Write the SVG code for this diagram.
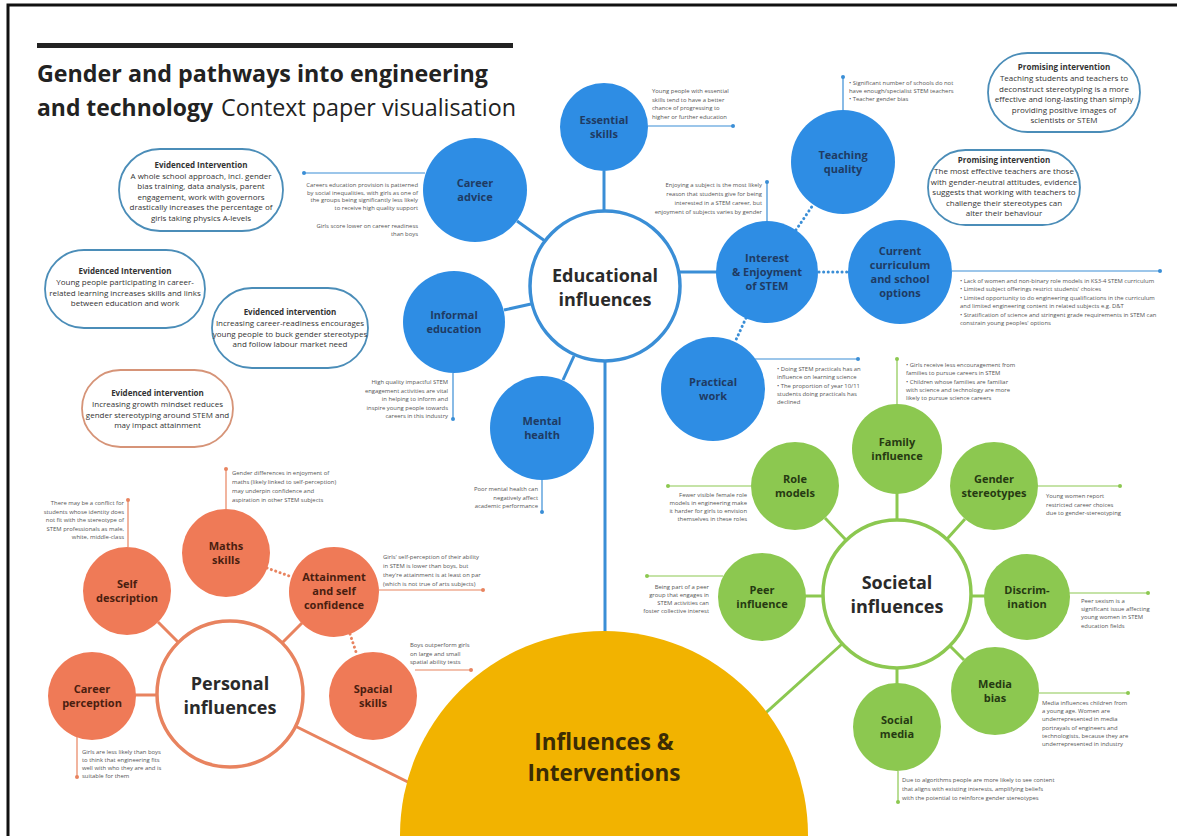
<svg xmlns="http://www.w3.org/2000/svg" width="1177" height="836" viewBox="0 0 1177 836">
<style>
text{font-family:"Open Sans","Liberation Sans",sans-serif}
.bl{fill:#2E8DE4}
.or{fill:#EF7A57}
.gr{fill:#8CC850}
.lbl{font-weight:700;font-size:11px;text-anchor:middle}
.lb{fill:#1F3B63}
.lo{fill:#4A1E10}
.lg{fill:#263A12}
.hub{font-weight:700;font-size:18px;text-anchor:middle;fill:#2A2A2A}
.an{font-size:5.9px;fill:#555}
.r{text-anchor:end}
.box{fill:#fff;stroke-width:1.8}
.bt{font-size:8px;fill:#333;text-anchor:middle}
.bt .h{font-weight:700}
.cb{stroke:#3A8ED6;stroke-width:3;fill:none}
.co{stroke:#E8835F;stroke-width:3;fill:none}
.cg{stroke:#8CC850;stroke-width:3;fill:none}
.dot{stroke-dasharray:0.1 4.5;stroke-linecap:round}
.ab{stroke:#3A8ED6;stroke-width:1.2}
.ao{stroke:#E8835F;stroke-width:1.2}
.ag{stroke:#8CC850;stroke-width:1.2}
</style>
<rect x="0" y="0" width="1177" height="836" fill="#fff"/>
<rect x="8" y="5" width="1200" height="900" fill="none" stroke="#111" stroke-width="3"/>

<g id="title">
<rect x="37" y="43" width="476" height="5" fill="#222"/>
<text x="37" y="82" font-size="23" font-weight="700" fill="#222" textLength="451" lengthAdjust="spacingAndGlyphs">Gender and pathways into engineering</text>
<text x="37" y="116" font-size="23" font-weight="700" fill="#222" textLength="176" lengthAdjust="spacingAndGlyphs">and technology</text>
<text x="221" y="116" font-size="23" fill="#222" textLength="295" lengthAdjust="spacingAndGlyphs">Context paper visualisation</text>
</g>

<g id="connectors">
<line class="cb" x1="604" y1="171" x2="604" y2="211"/>
<line class="cb" x1="517" y1="221" x2="545" y2="241"/>
<line class="cb" x1="504" y1="310" x2="531" y2="304"/>
<line class="cb" x1="563" y1="380" x2="574" y2="356"/>
<line class="cb" x1="680" y1="272" x2="717" y2="272"/>
<line class="cb" x1="605" y1="361" x2="605" y2="640"/>
<line class="cb dot" x1="796" y1="230" x2="813" y2="205"/>
<line class="cb dot" x1="819" y1="272" x2="848" y2="272"/>
<line class="cb dot" x1="746" y1="318" x2="735" y2="342"/>
<line class="co" x1="158" y1="622" x2="178" y2="642"/>
<line class="co" x1="302" y1="623" x2="282" y2="643"/>
<line class="co" x1="135" y1="695" x2="158" y2="695"/>
<line class="co" x1="295" y1="726" x2="420" y2="788" stroke-width="4"/>
<line class="co dot" x1="267" y1="568" x2="292" y2="577"/>
<line class="co dot" x1="350" y1="634" x2="357" y2="655"/>
<line class="cg" x1="897" y1="493" x2="897" y2="521"/>
<line class="cg" x1="825" y1="518" x2="846" y2="540"/>
<line class="cg" x1="965" y1="519" x2="947" y2="539"/>
<line class="cg" x1="805" y1="596" x2="824" y2="596"/>
<line class="cg" x1="970" y1="596" x2="985" y2="596"/>
<line class="cg" x1="964" y1="660" x2="950" y2="646"/>
<line class="cg" x1="897" y1="667" x2="897" y2="684"/>
<line class="cg" x1="842" y1="644" x2="760" y2="718"/>
</g>

<g id="node-influences-interventions">
<circle cx="604" cy="835" r="204" fill="#F2B300"/>
<text x="604" y="750" font-size="22.5" font-weight="700" text-anchor="middle" fill="#3B2C05">Influences &amp;</text>
<text x="604" y="781" font-size="22.5" font-weight="700" text-anchor="middle" fill="#3B2C05">Interventions</text>
</g>

<g id="node-educational">
<circle cx="605" cy="286" r="75" fill="#fff" stroke="#3A8ED6" stroke-width="3.5"/>
<text class="hub" x="605" y="282">Educational</text>
<text class="hub" x="605" y="306">influences</text>
</g>

<g id="node-essential-skills">
<circle class="bl" cx="604" cy="127" r="44"/>
<text class="lbl lb" x="604" y="124">Essential</text>
<text class="lbl lb" x="604" y="138">skills</text>
<line class="ab" x1="648" y1="126" x2="733" y2="126"/><circle cx="733" cy="126" r="2" fill="#3A8ED6"/>
<text class="an" x="652" y="93">Young people with essential</text>
<text class="an" x="652" y="101.5">skills tend to have a better</text>
<text class="an" x="652" y="110">chance of progressing to</text>
<text class="an" x="652" y="118.5">higher or further education</text>
</g>

<g id="node-career-advice">
<circle class="bl" cx="475" cy="190" r="52"/>
<text class="lbl lb" x="475" y="187">Career</text>
<text class="lbl lb" x="475" y="201">advice</text>
<line class="ab" x1="425" y1="173" x2="304" y2="173"/><circle cx="304" cy="173" r="2" fill="#3A8ED6"/>
<text class="an r" x="418" y="187">Careers education provision is patterned</text>
<text class="an r" x="418" y="194.5">by social inequalities, with girls as one of</text>
<text class="an r" x="418" y="202">the groups being significantly less likely</text>
<text class="an r" x="418" y="209.5">to receive high quality support</text>
<text class="an r" x="418" y="228">Girls score lower on career readiness</text>
<text class="an r" x="418" y="235.5">than boys</text>
</g>

<g id="node-informal-education">
<circle class="bl" cx="454" cy="322" r="51"/>
<text class="lbl lb" x="454" y="319">Informal</text>
<text class="lbl lb" x="454" y="333">education</text>
<line class="ab" x1="453" y1="373" x2="453" y2="419"/><circle cx="453" cy="419" r="2" fill="#3A8ED6"/>
<text class="an r" x="448" y="384">High quality impactful STEM</text>
<text class="an r" x="448" y="392.5">engagement activities are vital</text>
<text class="an r" x="448" y="401">in helping to inform and</text>
<text class="an r" x="448" y="409.5">inspire young people towards</text>
<text class="an r" x="448" y="418">careers in this industry</text>
</g>

<g id="node-mental-health">
<circle class="bl" cx="542" cy="428" r="52"/>
<text class="lbl lb" x="542" y="425">Mental</text>
<text class="lbl lb" x="542" y="439">health</text>
<line class="ab" x1="542" y1="480" x2="542" y2="512"/><circle cx="542" cy="512" r="2" fill="#3A8ED6"/>
<text class="an r" x="538" y="491">Poor mental health can</text>
<text class="an r" x="538" y="499.5">negatively affect</text>
<text class="an r" x="538" y="508">academic performance</text>
</g>

<g id="node-interest">
<circle class="bl" cx="767" cy="272" r="51"/>
<text class="lbl lb" x="767" y="262">Interest</text>
<text class="lbl lb" x="767" y="276">&amp; Enjoyment</text>
<text class="lbl lb" x="767" y="290">of STEM</text>
<line class="ab" x1="767" y1="221" x2="767" y2="182"/><circle cx="767" cy="182" r="2" fill="#3A8ED6"/>
<text class="an r" x="762" y="187">Enjoying a subject is the most likely</text>
<text class="an r" x="762" y="196">reason that students give for being</text>
<text class="an r" x="762" y="205">interested in a STEM career, but</text>
<text class="an r" x="762" y="214">enjoyment of subjects varies by gender</text>
</g>

<g id="node-teaching-quality">
<circle class="bl" cx="843" cy="162" r="52"/>
<text class="lbl lb" x="843" y="159">Teaching</text>
<text class="lbl lb" x="843" y="173">quality</text>
<line class="ab" x1="843" y1="110" x2="843" y2="77"/><circle cx="843" cy="77" r="2" fill="#3A8ED6"/>
<text class="an" x="849" y="85">•  Significant number of schools do not</text>
<text class="an" x="849" y="93">    have enough/specialist STEM teachers</text>
<text class="an" x="849" y="101">•  Teacher gender bias</text>
</g>

<g id="node-current-curriculum">
<circle class="bl" cx="900" cy="272" r="52"/>
<text class="lbl lb" x="900" y="255">Current</text>
<text class="lbl lb" x="900" y="269">curriculum</text>
<text class="lbl lb" x="900" y="283">and school</text>
<text class="lbl lb" x="900" y="297">options</text>
<line class="ab" x1="952" y1="271" x2="1160" y2="271"/><circle cx="1160" cy="271" r="2" fill="#3A8ED6"/>
<text class="an" x="960" y="283">•  Lack of women and non-binary role models in KS3-4 STEM curriculum</text>
<text class="an" x="960" y="291">•  Limited subject offerings restrict students' choices</text>
<text class="an" x="960" y="300">•  Limited opportunity to do engineering qualifications in the curriculum</text>
<text class="an" x="960" y="308">    and limited engineering content in related subjects e.g. D&amp;T</text>
<text class="an" x="960" y="317">•  Stratification of science and stringent grade requirements in STEM can</text>
<text class="an" x="960" y="325">    constrain young peoples' options</text>
</g>

<g id="node-practical-work">
<circle class="bl" cx="713" cy="389" r="52"/>
<text class="lbl lb" x="713" y="386">Practical</text>
<text class="lbl lb" x="713" y="400">work</text>
<line class="ab" x1="755" y1="359" x2="858" y2="359"/><circle cx="858" cy="359" r="2" fill="#3A8ED6"/>
<text class="an" x="777" y="371">•  Doing STEM practicals has an</text>
<text class="an" x="777" y="379">    influence on learning science</text>
<text class="an" x="777" y="388">•  The proportion of year 10/11</text>
<text class="an" x="777" y="396">    students doing practicals has</text>
<text class="an" x="777" y="404">    declined</text>
</g>

<g id="node-personal">
<circle cx="230" cy="694" r="73" fill="#fff" stroke="#E8835F" stroke-width="3.5"/>
<text class="hub" x="230" y="690">Personal</text>
<text class="hub" x="230" y="714">influences</text>
</g>

<g id="node-self-description">
<circle class="or" cx="127" cy="591" r="44"/>
<text class="lbl lo" x="127" y="588">Self</text>
<text class="lbl lo" x="127" y="602">description</text>
<line class="ao" x1="128" y1="547" x2="128" y2="500"/><circle cx="128" cy="500" r="2" fill="#E8835F"/>
<text class="an r" x="124" y="505">There may be a conflict for</text>
<text class="an r" x="124" y="513.5">students whose identity does</text>
<text class="an r" x="124" y="522">not fit with the stereotype of</text>
<text class="an r" x="124" y="530.5">STEM professionals as male,</text>
<text class="an r" x="124" y="539">white, middle-class</text>
</g>

<g id="node-maths-skills">
<circle class="or" cx="226" cy="553" r="44"/>
<text class="lbl lo" x="226" y="550">Maths</text>
<text class="lbl lo" x="226" y="564">skills</text>
<line class="ao" x1="226" y1="509" x2="226" y2="469"/><circle cx="226" cy="469" r="2" fill="#E8835F"/>
<text class="an" x="232" y="475">Gender differences in enjoyment of</text>
<text class="an" x="232" y="484">maths (likely linked to self-perception)</text>
<text class="an" x="232" y="493">may underpin confidence and</text>
<text class="an" x="232" y="502">aspiration in other STEM subjects</text>
</g>

<g id="node-attainment">
<circle class="or" cx="334" cy="592" r="45"/>
<text class="lbl lo" x="334" y="581">Attainment</text>
<text class="lbl lo" x="334" y="595">and self</text>
<text class="lbl lo" x="334" y="609">confidence</text>
<line class="ao" x1="379" y1="590" x2="483" y2="590"/><circle cx="483" cy="590" r="2" fill="#E8835F"/>
<text class="an" x="383" y="559">Girls' self-perception of their ability</text>
<text class="an" x="383" y="568">in STEM is lower than boys, but</text>
<text class="an" x="383" y="577">they're attainment is at least on par</text>
<text class="an" x="383" y="586">(which is not true of arts subjects)</text>
</g>

<g id="node-spacial-skills">
<circle class="or" cx="373" cy="696" r="44"/>
<text class="lbl lo" x="373" y="693">Spacial</text>
<text class="lbl lo" x="373" y="707">skills</text>
<line class="ao" x1="415" y1="670" x2="471" y2="670"/><circle cx="471" cy="670" r="2" fill="#E8835F"/>
<text class="an" x="410" y="647">Boys outperform girls</text>
<text class="an" x="410" y="655.5">on large and small</text>
<text class="an" x="410" y="664">spatial ability tests</text>
</g>

<g id="node-career-perception">
<circle class="or" cx="92" cy="696" r="44"/>
<text class="lbl lo" x="92" y="693">Career</text>
<text class="lbl lo" x="92" y="707">perception</text>
<line class="ao" x1="77" y1="737" x2="77" y2="777"/><circle cx="77" cy="777" r="2" fill="#E8835F"/>
<text class="an" x="82" y="754">Girls are less likely than boys</text>
<text class="an" x="82" y="762">to think that engineering fits</text>
<text class="an" x="82" y="770">well with who they are and is</text>
<text class="an" x="82" y="778">suitable for them</text>
</g>

<g id="node-societal">
<circle cx="897" cy="594" r="74" fill="#fff" stroke="#8CC850" stroke-width="3.5"/>
<text class="hub" x="897" y="589">Societal</text>
<text class="hub" x="897" y="613">influences</text>
</g>

<g id="node-family-influence">
<circle class="gr" cx="897" cy="449" r="45"/>
<text class="lbl lg" x="897" y="446">Family</text>
<text class="lbl lg" x="897" y="460">influence</text>
<line class="ag" x1="897" y1="404" x2="897" y2="359"/><circle cx="897" cy="359" r="2" fill="#8CC850"/>
<text class="an" x="906" y="367">•  Girls receive less encouragement from</text>
<text class="an" x="906" y="375">    families to pursue careers in STEM</text>
<text class="an" x="906" y="383.5">•  Children whose families are familiar</text>
<text class="an" x="906" y="391.5">    with science and technology are more</text>
<text class="an" x="906" y="399.5">    likely to pursue science careers</text>
</g>

<g id="node-role-models">
<circle class="gr" cx="795" cy="486" r="44"/>
<text class="lbl lg" x="795" y="483">Role</text>
<text class="lbl lg" x="795" y="497">models</text>
<line class="ag" x1="751" y1="486" x2="668" y2="486"/><circle cx="668" cy="486" r="2" fill="#8CC850"/>
<text class="an r" x="747" y="497">Fewer visible female role</text>
<text class="an r" x="747" y="505">models in engineering make</text>
<text class="an r" x="747" y="513">it harder for girls to envision</text>
<text class="an r" x="747" y="521">themselves in these roles</text>
</g>

<g id="node-gender-stereotypes">
<circle class="gr" cx="994" cy="486" r="44"/>
<text class="lbl lg" x="994" y="483">Gender</text>
<text class="lbl lg" x="994" y="497">stereotypes</text>
<line class="ag" x1="1038" y1="486" x2="1120" y2="486"/><circle cx="1120" cy="486" r="2" fill="#8CC850"/>
<text class="an" x="1046" y="498">Young women report</text>
<text class="an" x="1046" y="506.5">restricted career choices</text>
<text class="an" x="1046" y="515">due to gender-stereotyping</text>
</g>

<g id="node-peer-influence">
<circle class="gr" cx="762" cy="597" r="44"/>
<text class="lbl lg" x="762" y="594">Peer</text>
<text class="lbl lg" x="762" y="608">influence</text>
<line class="ag" x1="723" y1="576" x2="647" y2="576"/><circle cx="647" cy="576" r="2" fill="#8CC850"/>
<text class="an r" x="709" y="589">Being part of a peer</text>
<text class="an r" x="709" y="597">group that engages in</text>
<text class="an r" x="709" y="605">STEM activities can</text>
<text class="an r" x="709" y="613">foster collective interest</text>
</g>

<g id="node-discrimination">
<circle class="gr" cx="1027" cy="597" r="43"/>
<text class="lbl lg" x="1027" y="594">Discrim-</text>
<text class="lbl lg" x="1027" y="608">ination</text>
<line class="ag" x1="1069" y1="593" x2="1148" y2="593"/><circle cx="1148" cy="593" r="2" fill="#8CC850"/>
<text class="an" x="1081" y="603">Peer sexism is a</text>
<text class="an" x="1081" y="611">significant issue affecting</text>
<text class="an" x="1081" y="619">young women in STEM</text>
<text class="an" x="1081" y="627.5">education fields</text>
</g>

<g id="node-media-bias">
<circle class="gr" cx="995" cy="691" r="44"/>
<text class="lbl lg" x="995" y="688">Media</text>
<text class="lbl lg" x="995" y="702">bias</text>
<line class="ag" x1="1039" y1="693" x2="1128" y2="693"/><circle cx="1128" cy="693" r="2" fill="#8CC850"/>
<text class="an" x="1042" y="705">Media influences children from</text>
<text class="an" x="1042" y="713">a young age. Women are</text>
<text class="an" x="1042" y="721">underrepresented in media</text>
<text class="an" x="1042" y="729.5">portrayals of engineers and</text>
<text class="an" x="1042" y="737.5">technologists, because they are</text>
<text class="an" x="1042" y="745.5">underrepresented in industry</text>
</g>

<g id="node-social-media">
<circle class="gr" cx="897" cy="727" r="44"/>
<text class="lbl lg" x="897" y="724">Social</text>
<text class="lbl lg" x="897" y="738">media</text>
<line class="ag" x1="898" y1="771" x2="898" y2="802"/><circle cx="898" cy="802" r="2" fill="#8CC850"/>
<text class="an" x="902" y="782">Due to algorithms people are more likely to see content</text>
<text class="an" x="902" y="791">that aligns with existing interests, amplifying beliefs</text>
<text class="an" x="902" y="800">with the potential to reinforce gender stereotypes</text>
</g>

<g id="box-evidenced-1">
<rect class="box" x="119" y="149" width="164" height="82" rx="41" stroke="#4B8DB8"/>
<text class="bt" x="201"><tspan class="h" x="201" y="168">Evidenced Intervention</tspan><tspan x="201" y="178.5">A whole school approach, incl. gender</tspan><tspan x="201" y="189">bias training, data analysis, parent</tspan><tspan x="201" y="199.5">engagement, work with governors</tspan><tspan x="201" y="210">drastically increases the percentage of</tspan><tspan x="201" y="220.5">girls taking physics A-levels</tspan></text>
</g>

<g id="box-evidenced-2">
<rect class="box" x="45" y="250" width="160" height="78" rx="39" stroke="#4B8DB8"/>
<text class="bt" x="125"><tspan class="h" x="125" y="274">Evidenced Intervention</tspan><tspan x="125" y="285">Young people participating in career-</tspan><tspan x="125" y="295.5">related learning increases skills and links</tspan><tspan x="125" y="306">between education and work</tspan></text>
</g>

<g id="box-evidenced-3">
<rect class="box" x="212" y="288" width="156" height="80" rx="40" stroke="#4B8DB8"/>
<text class="bt" x="290"><tspan class="h" x="290" y="315">Evidenced intervention</tspan><tspan x="290" y="326">Increasing career-readiness encourages</tspan><tspan x="290" y="336.5">young people to buck gender stereotypes</tspan><tspan x="290" y="347">and follow labour market need</tspan></text>
</g>

<g id="box-evidenced-4">
<rect class="box" x="82" y="370" width="151" height="77" rx="38.5" stroke="#D69478"/>
<text class="bt" x="157.5"><tspan class="h" x="157.5" y="396">Evidenced intervention</tspan><tspan x="157.5" y="407">Increasing growth mindset reduces</tspan><tspan x="157.5" y="417.5">gender stereotyping around STEM and</tspan><tspan x="157.5" y="428">may impact attainment</tspan></text>
</g>

<g id="box-promising-1">
<rect class="box" x="988" y="53" width="152" height="79" rx="39.5" stroke="#4B8DB8"/>
<text class="bt" x="1064"><tspan class="h" x="1064" y="70">Promising intervention</tspan><tspan x="1064" y="81">Teaching students and teachers to</tspan><tspan x="1064" y="91.5">deconstruct stereotyping is a more</tspan><tspan x="1064" y="102">effective and long-lasting than simply</tspan><tspan x="1064" y="112.5">providing positive images of</tspan><tspan x="1064" y="123">scientists or STEM</tspan></text>
</g>

<g id="box-promising-2">
<rect class="box" x="928" y="150" width="152" height="75" rx="37.5" stroke="#4B8DB8"/>
<text class="bt" x="1004"><tspan class="h" x="1004" y="163">Promising intervention</tspan><tspan x="1004" y="174">The most effective teachers are those</tspan><tspan x="1004" y="184.5">with gender-neutral attitudes, evidence</tspan><tspan x="1004" y="195">suggests that working with teachers to</tspan><tspan x="1004" y="205.5">challenge their stereotypes can</tspan><tspan x="1004" y="216">alter their behaviour</tspan></text>
</g>
</svg>
